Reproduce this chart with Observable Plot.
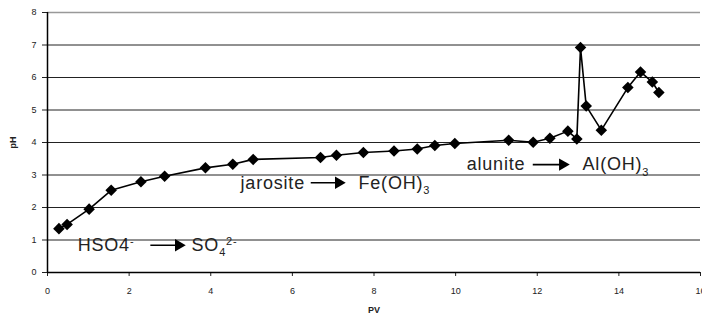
<!DOCTYPE html>
<html><head><meta charset="utf-8">
<script src="https://cdn.jsdelivr.net/npm/d3@7"></script>
<script src="https://cdn.jsdelivr.net/npm/@observablehq/plot@0.6"></script>
<style>body{margin:0;background:#fff}svg{display:block}</style>
</head><body><div id="chart"></div>
<script>
const pv = [0.28,0.48,1.02,1.56,2.29,2.87,3.87,4.54,5.04,6.69,7.08,7.74,8.49,9.06,9.49,9.98,11.3,11.9,12.31,12.75,12.97,13.06,13.2,13.57,14.22,14.53,14.82,14.98];
const ph = [1.35,1.48,1.95,2.53,2.79,2.96,3.22,3.33,3.48,3.54,3.61,3.69,3.74,3.80,3.91,3.97,4.07,4.01,4.13,4.35,4.11,6.92,5.12,4.38,5.69,6.17,5.86,5.54];
const xTicks = [0,2,4,6,8,10,12,14,16];
const yTicks = [0,1,2,3,4,5,6,7,8];
const labelX = [0.74,3.53,4.73,7.62,10.27,13.11];
const labelY = [0.84,0.84,2.76,2.76,3.32,3.32];
const labelText = ["HSO4^{-}","SO_{4}^{2-}","jarosite","Fe(OH)_{3}","alunite","Al(OH)_{3}"];
const arrowX1 = [2.52,6.45,11.89];
const arrowX2 = [3.31,7.23,12.72];
const arrowY = [0.84,2.76,3.32];

const data = pv.map((x,i)=>({x, y: ph[i]}));
const labels = labelX.map((x,i)=>({x, y: labelY[i], t: labelText[i]}));
const arrows = arrowX1.map((x1,i)=>({x1, x2: arrowX2[i], y: arrowY[i]}));

const chart = Plot.plot({
  width: 702, height: 321,
  marginLeft: 47, marginRight: 2, marginTop: 12, marginBottom: 49,
  style: {fontFamily: "'Liberation Sans', Arial, sans-serif", fontSize: "9px", color: "#222", background: "#fff"},
  x: {domain: [0,16], ticks: xTicks, tickSize: 4, tickPadding: 11, label: "PV", labelArrow: "none", labelAnchor: "center", labelOffset: 40},
  y: {domain: [0,8], ticks: yTicks, tickSize: 5, tickPadding: 6, label: "pH", labelArrow: "none", labelAnchor: "center", labelOffset: 38},
  marks: [
    Plot.gridY(yTicks.filter(d=>d>0 && d<8), {stroke: "#222", strokeOpacity: 1, strokeWidth: 1}),
    Plot.ruleY([8], {stroke: "#999", strokeWidth: 1.5}),
    Plot.ruleX([0], {stroke: "#000", strokeWidth: 1.5}),
    Plot.ruleY([0], {stroke: "#000", strokeWidth: 1.5}),
    Plot.line(data, {x: "x", y: "y", stroke: "#000", strokeWidth: 1.6}),
    Plot.dot(data, {x: "x", y: "y", symbol: "diamond2", r: 5.2, fill: "#000", stroke: "none"}),
    Plot.link(arrows, {x1: "x1", x2: "x2", y1: "y", y2: "y", stroke: "#000", strokeWidth: 1.6}),
    Plot.dot(arrows, {x: "x2", y: "y", dx: -4, symbol: "triangle", r: 4.6, rotate: 90, fill: "#000", stroke: "none"}),
    Plot.text(labels, {x: "x", y: "y", text: "t", textAnchor: "start", lineAnchor: "middle", fontSize: 18, fill: "#222", className: "annot"})
  ]
});

// axis label styling (strip any arrow)
d3.select(chart).selectAll("[aria-label='x-axis label'] text, [aria-label='y-axis label'] text")
  .each(function(){ this.textContent = this.textContent.replace(/[\s→↑←↓]+$/u, "").trim(); })
  .style("font-weight", "bold").style("font-size", "9px");

// build sub/superscripts
d3.select(chart).selectAll(".annot text").each(function(){
  const s = this.textContent;
  const el = d3.select(this);
  el.text("").style("letter-spacing", "0.8px");
  const re = /([_^])\{([^}]*)\}|([^_^]+)/g;
  let m, shift = 0;
  while ((m = re.exec(s))) {
    let target = 0, txt, small = false;
    if (m[1] === "_") { target = 0.3; txt = m[2]; small = true; }
    else if (m[1] === "^") { target = -0.33; txt = m[2]; small = true; }
    else { target = 0; txt = m[3]; }
    const fs = small ? 11 : 18;
    el.append("tspan").attr("dy", ((target - shift) * 18) + "px").style("font-size", fs + "px").text(txt);
    shift = target;
  }
});

document.getElementById("chart").appendChild(chart);
</script>
</body></html>
